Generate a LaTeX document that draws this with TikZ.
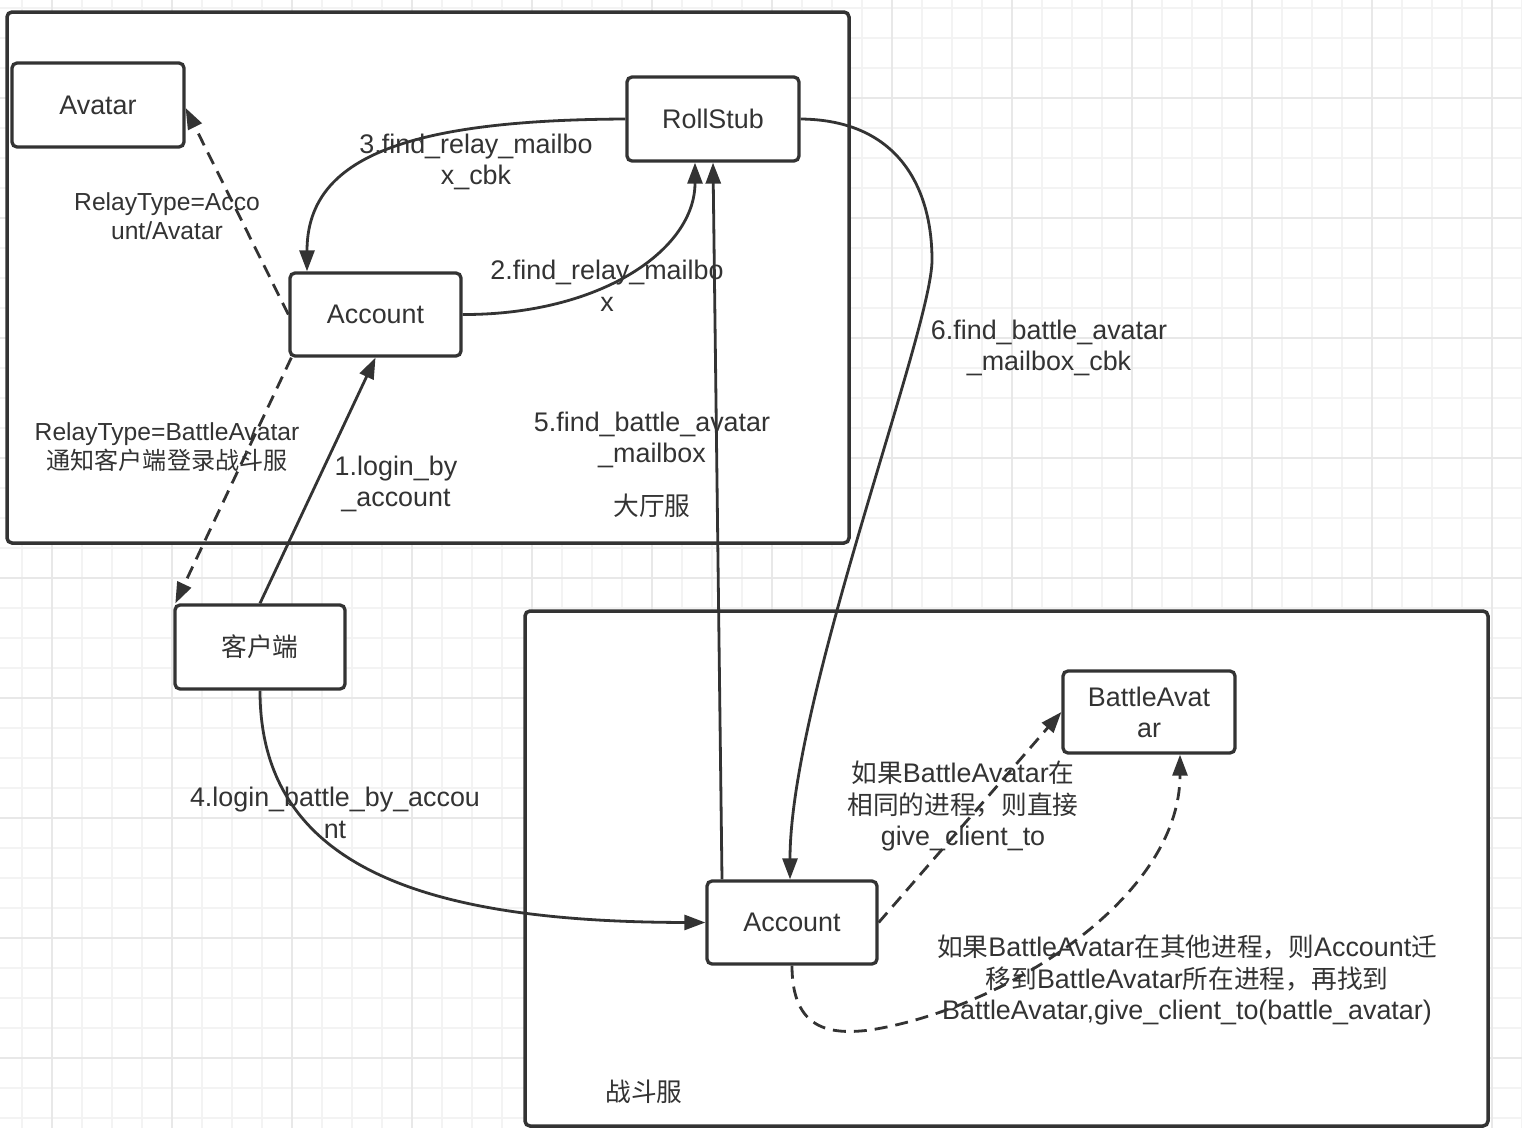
\documentclass[tikz,border=0pt]{standalone}
\usepackage{fontspec}
\setmainfont[Scale=1.12]{Liberation Sans}
\newfontfamily\cjk[Scale=1.07]{Noto Sans CJK SC}
\usetikzlibrary{arrows.meta,calc}
\definecolor{ink}{HTML}{333333}
\definecolor{gridminor}{HTML}{F3F3F3}
\definecolor{gridmajor}{HTML}{E8E8E8}
\begin{document}
\begin{tikzpicture}[x=1pt,y=-1pt,
  box/.style={draw=ink,line width=3.3pt,rounded corners=5pt,fill=white,inner sep=0pt,align=center,text=ink,font=\fontsize{24}{31}\selectfont},
  container/.style={draw=ink,line width=3.5pt,rounded corners=5pt,fill=white,inner sep=0pt},
  edge/.style={draw=ink,line width=2.8pt,-{Triangle[length=21pt,width=15pt]}},
  dashedge/.style={edge,dash pattern=on 13pt off 8pt},
  lbl/.style={text=ink,align=center,font=\fontsize{24}{31.5}\selectfont,inner sep=0pt}]
\useasboundingbox (0,0) rectangle (1522,1128);
\fill[white] (0,0) rectangle (1522,1128);
% grid
\foreach \x in {22,52,...,1522} \draw[gridminor,line width=1.2pt] (\x,0) -- (\x,1128);
\foreach \y in {8,38,...,1128} \draw[gridminor,line width=1.2pt] (0,\y) -- (1522,\y);
\foreach \x in {52,172,...,1522} \draw[gridmajor,line width=1.5pt] (\x,0) -- (\x,1128);
\foreach \y in {98,218,...,1128} \draw[gridmajor,line width=1.5pt] (0,\y) -- (1522,\y);
% containers
\node[container,minimum width=842pt,minimum height=531pt] (hall) at (428,277.5) {};
\node[container,minimum width=963pt,minimum height=515pt] (battle) at (1006.5,868.5) {};
% nodes
\node[box,minimum width=172pt,minimum height=84pt] (av) at (98,105) {Avatar};
\node[box,minimum width=172pt,minimum height=84pt] (rs) at (713,119) {RollStub};
\node[box,minimum width=171pt,minimum height=83pt] (acc1) at (375.5,314.5) {Account};
\node[box,minimum width=170pt,minimum height=84pt] (cl) at (260,647) {\cjk 客户端};
\node[box,minimum width=172pt,minimum height=82pt] (ba) at (1149,712) {BattleAvat\\ar};
\node[box,minimum width=170pt,minimum height=83pt] (acc2) at (792,922.5) {Account};
% labels
\node[lbl] (l1) at (396,484) {1.login\_by\\\_account};
\node[lbl] (l2) at (607,286) {2.find\_relay\_mailbo\\x};
\node[lbl] (l3) at (476,162) {3.find\_relay\_mailbo\\x\_cbk};
\node[lbl] (l4) at (335,813) {4.login\_battle\_by\_accou\\nt};
\node[lbl] (l5) at (652,440) {5.find\_battle\_avatar\\\_mailbox};
\node[lbl] (l6) at (1049,348) {6.find\_battle\_avatar\\\_mailbox\_cbk};
\node[lbl,font=\fontsize{22}{29}\selectfont] (l7) at (167,216) {RelayType=Acco\\unt/Avatar};
\node[lbl,font=\fontsize{22}{29}\selectfont] (l8) at (167,447) {RelayType=BattleAvatar\\{\fontsize{22.5}{29}\selectfont\cjk 通知客户端登录战斗服}};
\node[lbl] (l9) at (963,806) {{\cjk 如果}BattleAvatar{\cjk 在}\\{\cjk 相同的进程，则直接}\\give\_client\_to};
\node[lbl] (l10) at (1187,980) {{\cjk 如果}BattleAvatar{\cjk 在其他进程，则}Account{\cjk 迁}\\{\cjk 移到}BattleAvatar{\cjk 所在进程，再找到}\\BattleAvatar,give\_client\_to(battle\_avatar)};
\node[lbl] (hallname) at (652,506) {\cjk 大厅服};
\node[lbl] (battlename) at (644,1092) {\cjk 战斗服};
% edges
\draw[edge] (cl.north) -- (acc1.south);
\draw[edge] (acc1.east) .. controls (600,315) and (695,250) .. ([xshift=-18pt]rs.south);
\draw[edge] (rs.west) .. controls (400,120) and (307,160) .. ([xshift=-68.5pt]acc1.north);
\draw[edge] (cl.south) .. controls (260,870) and (430,922) .. (acc2.west);
\draw[edge] ([xshift=-70pt]acc2.north) -- (rs.south);
\draw[edge] (rs.east) .. controls (900,120) and (932,190) .. (932,260) .. controls (932,330) and (790,700) .. ([xshift=-2pt]acc2.north);
\draw[dashedge] (acc1.west) -- ([yshift=-3pt]av.east);
\draw[dashedge] ([xshift=3pt]acc1.south west) -- ([xshift=2pt]cl.north west);
\draw[dashedge] (acc2.east) -- (ba.west);
\draw[dashedge] (acc2.south) .. controls (792,1030) and (830,1035) .. (870,1030) .. controls (1000,1010) and (1180,900) .. ([xshift=31pt]ba.south);
\end{tikzpicture}
\end{document}
